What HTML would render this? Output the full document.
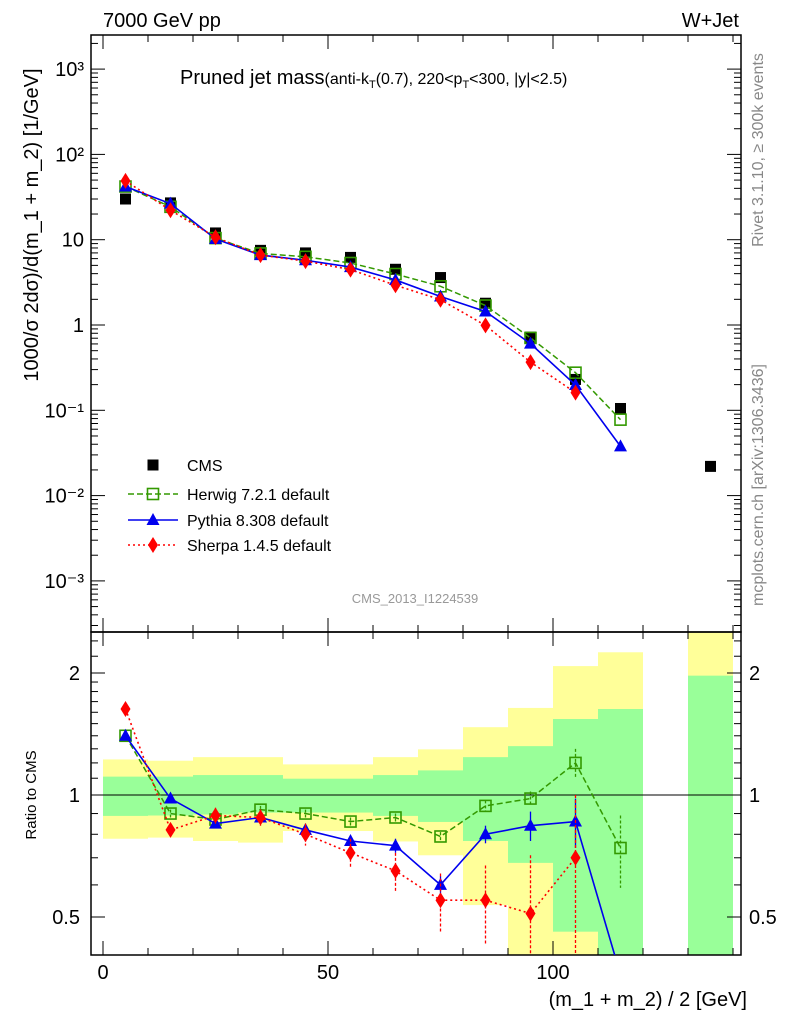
<!DOCTYPE html>
<html><head><meta charset="utf-8"><style>
html,body{margin:0;padding:0;background:#fff;}
svg{display:block;font-family:"Liberation Sans",Arial,sans-serif;}
</style></head><body>
<svg id="chart" width="786" height="1024" viewBox="0 0 786 1024" xmlns="http://www.w3.org/2000/svg">
<text x="103" y="27" font-size="20">7000 GeV pp</text>
<text x="739" y="27" font-size="20" text-anchor="end">W+Jet</text>
<text x="180" y="84" font-size="20">Pruned jet mass<tspan font-size="16">(anti-k<tspan baseline-shift="-4" font-size="11">T</tspan>(0.7), 220&lt;p<tspan baseline-shift="-4" font-size="11">T</tspan>&lt;300, |y|&lt;2.5)</tspan></text>
<text x="0" y="0" font-size="20" text-anchor="middle" transform="translate(38,225) rotate(-90)">1000/σ 2dσ)/d(m_1 + m_2) [1/GeV]</text>
<text x="0" y="0" font-size="15" text-anchor="middle" transform="translate(36,795) rotate(-90)">Ratio to CMS</text>
<text x="747" y="1006" font-size="20" text-anchor="end">(m_1 + m_2) / 2 [GeV]</text>
<text x="0" y="0" font-size="16" fill="#888" text-anchor="middle" transform="translate(763,150) rotate(-90)">Rivet 3.1.10, ≥ 300k events</text>
<text x="0" y="0" font-size="16" fill="#888" text-anchor="middle" transform="translate(763,485) rotate(-90)">mcplots.cern.ch [arXiv:1306.3436]</text>
<text x="415" y="603" font-size="13" fill="#999" text-anchor="middle">CMS_2013_I1224539</text>
<g id="bands"></g><g id="axes"></g><g id="series"></g><g id="legend"></g>
</svg>
<script>
const xCenters=[5,15,25,35,45,55,65,75,85,95,105,115,135];
const cmsVals=[30,27,12,7.5,7,6.2,4.5,3.6,1.8,0.72,0.23,0.105,0.022];
const herwigRatio=[1.4,0.9,0.87,0.92,0.9,0.86,0.88,0.79,0.94,0.98,1.2,0.74];
const herwigErr=[0.02,0.02,0.02,0.02,0.02,0.02,0.02,0.02,0.03,0.04,0.1,0.15];
const pythiaRatio=[1.4,0.98,0.85,0.88,0.82,0.77,0.75,0.6,0.8,0.84,0.86,0.36];
const pythiaErr=[0.02,0.01,0.01,0.01,0.02,0.02,0.03,0.03,0.04,0.07,0.12,0.1];
const sherpaRatio=[1.63,0.82,0.89,0.88,0.8,0.72,0.65,0.55,0.55,0.51,0.7];
const sherpaErr=[0.03,0.03,0.04,0.04,0.05,0.06,0.07,0.09,0.12,0.2,0.3];
const binLo=[0,10,20,30,40,50,60,70,80,90,100,110,130];
const binHi=[10,20,30,40,50,60,70,80,90,100,110,120,140];
const greenUp=[1.11,1.11,1.12,1.12,1.097,1.097,1.12,1.15,1.24,1.32,1.54,1.63,1.97];
const greenDn=[0.888,0.89,0.895,0.905,0.905,0.905,0.888,0.858,0.77,0.68,0.46,0.3,0.3];
const yellowUp=[1.224,1.215,1.24,1.24,1.19,1.19,1.24,1.296,1.47,1.64,2.08,2.25,3];
const yellowDn=[0.78,0.785,0.77,0.763,0.815,0.815,0.768,0.71,0.535,0.3,0.3,0.3,0.3];
const mainTicks=[3,2,1,0,-1,-2,-3];
const mainTickLabels=["10³","10²","10","1","10⁻¹","10⁻²","10⁻³"];
const ratioTicks=[0.5,1,2];
const ratioTickLabels=["0.5","1","2"];
const xTicks=[0,50,100];

const NS="http://www.w3.org/2000/svg";
const L=91,R=741,T1=35,B1=632,T2=632,B2=955;
const X=v=>103+v*4.5;
const Y=v=>325-Math.log10(v)*85.3;
const YR=v=>795-Math.log2(v)*122;
const clampR=y=>Math.max(T2,Math.min(B2,y));
function mk(parent,tag,attrs){const e=document.createElementNS(NS,tag);for(const k in attrs)e.setAttribute(k,attrs[k]);document.getElementById(parent).appendChild(e);return e;}

for(let i=0;i<binLo.length;i++){
  let yt=clampR(YR(yellowUp[i])),yb=clampR(YR(yellowDn[i]));
  let e=mk('bands','rect',{x:X(binLo[i]),y:yt,width:X(binHi[i])-X(binLo[i]),height:yb-yt,fill:'#ffff99'});
  
  
  yt=clampR(YR(greenUp[i]));yb=clampR(YR(greenDn[i]));
  e=mk('bands','rect',{x:X(binLo[i]),y:yt,width:X(binHi[i])-X(binLo[i]),height:yb-yt,fill:'#99ff99'});
  
  
}
let f=mk('axes','rect',{x:L,y:T1,width:R-L,height:B1-T1,fill:'none',stroke:'#000','stroke-width':1.5});

f=mk('axes','rect',{x:L,y:T2,width:R-L,height:B2-T2,fill:'none',stroke:'#000','stroke-width':1.5});

mk('axes','line',{x1:L,x2:R,y1:YR(1),y2:YR(1),stroke:'#000','stroke-width':1});
for(let v=0;v<=140;v+=10){
  const maj=xTicks.includes(v),len=maj?14:7;
  [[T1,1],[B1,-1],[T2,1],[B2,-1]].forEach(([y,d])=>mk('axes','line',{x1:X(v),x2:X(v),y1:y,y2:y+d*len,stroke:'#000'}));
}
xTicks.forEach(v=>{const t=mk('axes','text',{x:X(v),y:979,'font-size':20,'text-anchor':'middle'});t.textContent=v;
});
for(let d=-4;d<=3;d++){for(let m=1;m<=9;m++){const v=m*Math.pow(10,d),y=Y(v);if(y<T1||y>B1)continue;const len=m==1?14:7;
mk('axes','line',{x1:L,x2:L+len,y1:y,y2:y,stroke:'#000'});mk('axes','line',{x1:R,x2:R-len,y1:y,y2:y,stroke:'#000'});}}
mainTicks.forEach((p,i)=>{const t=mk('axes','text',{x:84,y:Y(Math.pow(10,p))+7,'font-size':20,'text-anchor':'end'});t.textContent=mainTickLabels[i];
});
[0.5,0.6,0.7,0.8,0.9,1,1.1,1.2,1.3,1.4,1.5,1.6,1.7,1.8,1.9,2,2.2,2.4].forEach(v=>{const y=YR(v);if(y<T2||y>B2)return;const len=ratioTicks.includes(v)?14:7;
mk('axes','line',{x1:L,x2:L+len,y1:y,y2:y,stroke:'#000'});mk('axes','line',{x1:R,x2:R-len,y1:y,y2:y,stroke:'#000'});});
ratioTicks.forEach((v,i)=>{let t=mk('axes','text',{x:80,y:YR(v)+7,'font-size':20,'text-anchor':'end'});t.textContent=ratioTickLabels[i];

t=mk('axes','text',{x:749,y:YR(v)+7,'font-size':20});t.textContent=ratioTickLabels[i];
});

function marker(g,type,x,y,color){
  let e;
  if(type==='sq')e=mk(g,'rect',{x:x-5.5,y:y-5.5,width:11,height:11,fill:'#000'});
  else if(type==='osq')e=mk(g,'rect',{x:x-5.5,y:y-5.5,width:11,height:11,fill:'#fff','fill-opacity':0,stroke:color,'stroke-width':1.6});
  else if(type==='tri')e=mk(g,'polygon',{points:`${x},${y-7} ${x+6.5},${y+5} ${x-6.5},${y+5}`,fill:color});
  else e=mk(g,'polygon',{points:`${x},${y-8} ${x+5},${y} ${x},${y+8} ${x-5},${y}`,fill:color});
  return e;
}
const styles=[
 {name:'herwig',r:herwigRatio,err:herwigErr,color:'#339900',dash:'6,3',type:'osq',w:1.5},
 {name:'pythia',r:pythiaRatio,err:pythiaErr,color:'#0000ee',dash:'',type:'tri',w:1.6},
 {name:'sherpa',r:sherpaRatio,err:sherpaErr,color:'#ff0000',dash:'2,3',type:'dia',w:1.6}];
cmsVals.forEach((v,i)=>{const e=marker('series','sq',X(xCenters[i]),Y(v));
});
styles.forEach(s=>{
  const main=s.r.map((r,i)=>r*cmsVals[i]);
  let pts=main.map((v,i)=>X(xCenters[i])+','+Y(v)).join(' ');
  let pl=mk('series','polyline',{points:pts,fill:'none',stroke:s.color,'stroke-width':s.w,'stroke-dasharray':s.dash});
  
  main.forEach((v,i)=>{const e=marker('series',s.type,X(xCenters[i]),Y(v),s.color);
  });
  pts=s.r.map((r,i)=>X(xCenters[i])+','+YR(r)).join(' ');
  pl=mk('series','polyline',{points:pts,fill:'none',stroke:s.color,'stroke-width':s.w,'stroke-dasharray':s.dash,'clip-path':'url(#rclip)'});
  
  s.r.forEach((r,i)=>{
    const x=X(xCenters[i]);
    if(YR(r)>B2||YR(r)<T2)return;
    const y1=clampR(YR(r+s.err[i])),y2=clampR(YR(Math.max(0.05,r-s.err[i])));
    mk('series','line',{x1:x,x2:x,y1:y1,y2:y2,stroke:s.color,'stroke-width':1.3,'stroke-dasharray':s.dash?'3,2':''});
    const e=marker('series',s.type,x,YR(r),s.color);
    
  });
});
const defs=document.createElementNS(NS,'defs');defs.innerHTML='<clipPath id="rclip"><rect x="91" y="632" width="650" height="323"/></clipPath>';
document.getElementById('chart').prepend(defs);
const leg=[['CMS','sq','#000',''],['Herwig 7.2.1 default','osq','#339900','6,3'],['Pythia 8.308 default','tri','#0000ee',''],['Sherpa 1.4.5 default','dia','#ff0000','2,3']];
const legY=[465,494,520,545];
leg.forEach((l,i)=>{
  const y=legY[i];
  if(i>0)mk('legend','line',{x1:128,x2:178,y1:y,y2:y,stroke:l[2],'stroke-width':1.5,'stroke-dasharray':l[3]});
  marker('legend',l[1],153,y,l[2]);
  const t=mk('legend','text',{x:187,y:y+6,'font-size':16});t.textContent=l[0];
  
});
</script>
</body></html>
